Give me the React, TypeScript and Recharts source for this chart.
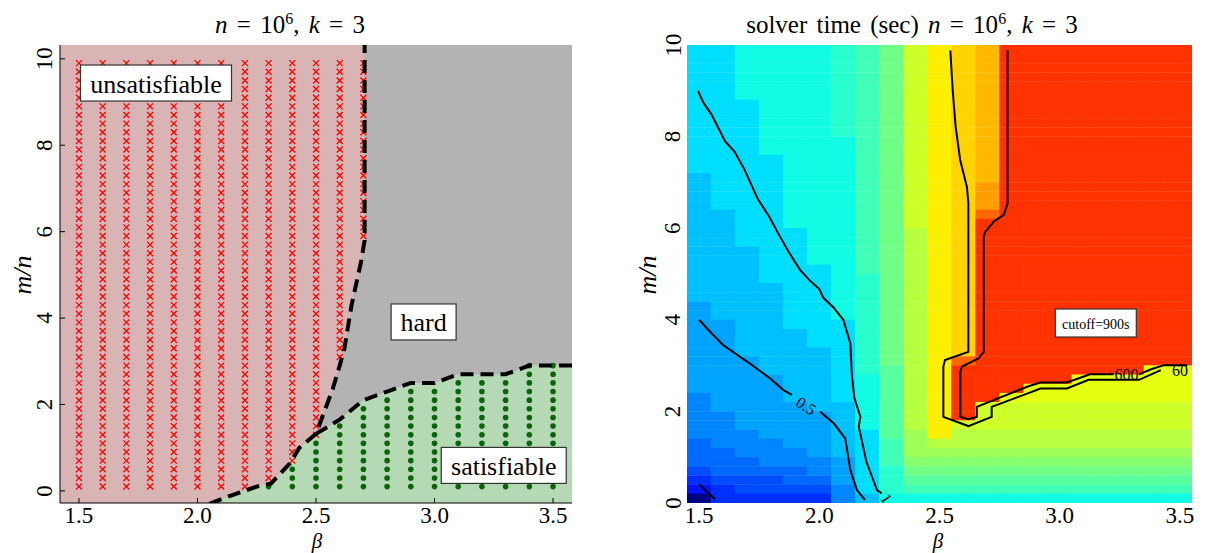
import React from "react";
import { ComposedChart, Area, Scatter, XAxis, YAxis, CartesianGrid } from "recharts";

const FONT = "'Liberation Serif', 'DejaVu Serif', serif";

// sampled grid: beta (columns) and m/n (rows, top to bottom)
const betas = [1.5, 1.6, 1.7, 1.8, 1.9, 2.0, 2.1, 2.2, 2.3, 2.4, 2.5, 2.6, 2.7, 2.8, 2.9, 3.0, 3.1, 3.2, 3.3, 3.4, 3.5];
const ratios = [
  9.9, 9.7, 9.5, 9.3, 9.1, 8.9, 8.7, 8.5, 8.3, 8.1, 7.9, 7.7, 7.5, 7.3, 7.1, 6.9, 6.7, 6.5, 6.3, 6.1,
  5.9, 5.7, 5.5, 5.3, 5.1, 4.9, 4.7, 4.5, 4.3, 4.1, 3.9, 3.7, 3.5, 3.3, 3.1, 2.9, 2.7, 2.5, 2.3, 2.1,
  1.9, 1.7, 1.5, 1.3, 1.1, 0.9, 0.7, 0.5, 0.3, 0.1,
];

// highest m/n solved (satisfiable) and lowest m/n proven unsatisfiable, per beta
const satTop = [null, null, null, null, null, null, null, null, 0.1, 0.5, 1.1, 1.5, 1.9, 2.1, 2.3, 2.3, 2.5, 2.5, 2.5, 2.9, 2.9];
const unsatBottom = [0.1, 0.1, 0.1, 0.1, 0.1, 0.1, 0.1, 0.1, 0.3, 0.7, 1.3, 3.1, 5.9, null, null, null, null, null, null, null, null];

// dashed phase boundaries
const unsatEdgeLow = [
  { x: 2.05, y: -0.3 }, { x: 2.15, y: -0.09 }, { x: 2.25, y: 0.1 }, { x: 2.31, y: 0.17 },
  { x: 2.39, y: 0.64 }, { x: 2.43, y: 1.0 },
];
const triplePoint = { x: 2.5, y: 1.32 };
const unsatEdgeHigh = [
  { x: 2.57, y: 2.35 }, { x: 2.6, y: 2.9 }, { x: 2.62, y: 3.3 }, { x: 2.65, y: 4.3 },
  { x: 2.69, y: 5.3 }, { x: 2.705, y: 5.8 }, { x: 2.705, y: 10.4 },
];
const satEdge = [
  { x: 2.6, y: 1.65 }, { x: 2.7, y: 2.1 }, { x: 2.8, y: 2.3 }, { x: 2.9, y: 2.5 }, { x: 3.0, y: 2.5 },
  { x: 3.1, y: 2.7 }, { x: 3.3, y: 2.7 }, { x: 3.4, y: 2.9 }, { x: 3.6, y: 2.9 },
];

const regionLabels = [
  { x: 1.825, y: 9.44, text: "unsatisfiable" },
  { x: 2.954, y: 3.91, text: "hard" },
  { x: 3.292, y: 0.59, text: "satisfiable" },
];

// solver time heatmap: jet level per cell (0-9a-z -> 0..1), column runs top to bottom
const heatRuns = [
  "c*14 b*14 a*10 9*5 8*3 7 6 5 0",
  "c*18 b*12 a*10 9*4 8*3 7 6*2",
  "d*6 c*16 b*12 a*8 9*3 8*2 7*2 6",
  "d*12 c*14 b*10 a*7 9*3 8 7*2 6",
  "d*20 c*11 b*8 a*5 9*2 8*2 7 6",
  "d*24 c*9 b*7 a*5 9*2 8 7 6",
  "e*10 d*20 c*9 b*6 a*3 9*2",
  "f*25 e*11 d*6 c*7 b",
  "h*35 g*8 f*3 e*3 d",
  "l*20 k*22 j*3 i h g f d",
  "n*43 k j i h g f d",
  "o*34 s u*6 l k*2 j i h g f d",
  "p*15 q*3 s u*20 l*3 k*2 j i h g f d",
  "u*38 m l*3 k*2 j i h g f d",
  "u*37 m*2 l*3 k*2 j i h g f d",
  "u*37 m*2 l*3 k*2 j i h g f d",
  "u*36 m*3 l*3 k*2 j i h g f d",
  "u*36 m*3 l*3 k*2 j i h g f d",
  "u*36 m*3 l*3 k*2 j i h g f d",
  "u*35 m*4 l*3 k*2 j i h g f d",
  "u*35 m*4 l*3 k*2 j i h g f d",
];

// contour lines (sec)
const contour01 = [{ x: 1.5, y: 0.41 }, { x: 1.567, y: 0.08 }];
const contour05Head = [
  { x: 1.5, y: 4.0 }, { x: 1.553, y: 3.7 }, { x: 1.6, y: 3.45 }, { x: 1.71, y: 3.05 },
  { x: 1.796, y: 2.72 }, { x: 1.85, y: 2.47 }, { x: 1.886, y: 2.36 },
];
const contour05Tail = [
  { x: 2.004, y: 1.99 }, { x: 2.06, y: 1.74 }, { x: 2.108, y: 1.41 }, { x: 2.129, y: 0.72 },
  { x: 2.157, y: 0.28 }, { x: 2.19, y: 0.07 },
];
const contour1 = [
  { x: 1.496, y: 9.0 }, { x: 1.517, y: 8.75 }, { x: 1.552, y: 8.48 }, { x: 1.608, y: 7.9 },
  { x: 1.648, y: 7.67 }, { x: 1.688, y: 7.29 }, { x: 1.745, y: 6.63 }, { x: 1.792, y: 6.25 },
  { x: 1.832, y: 5.86 }, { x: 1.873, y: 5.48 }, { x: 1.92, y: 5.09 }, { x: 1.96, y: 4.86 },
  { x: 2.0, y: 4.67 }, { x: 2.017, y: 4.48 }, { x: 2.057, y: 4.28 }, { x: 2.1, y: 4.0 },
  { x: 2.129, y: 3.49 }, { x: 2.136, y: 2.76 }, { x: 2.146, y: 2.29 }, { x: 2.171, y: 1.88 },
  { x: 2.164, y: 1.67 }, { x: 2.196, y: 0.9 }, { x: 2.24, y: 0.28 }, { x: 2.26, y: 0.21 },
];
const contour60 = [
  { x: 2.545, y: 9.88 }, { x: 2.555, y: 9.0 }, { x: 2.567, y: 8.22 }, { x: 2.586, y: 7.49 },
  { x: 2.614, y: 6.9 }, { x: 2.62, y: 6.55 }, { x: 2.62, y: 3.3 }, { x: 2.523, y: 3.12 },
  { x: 2.516, y: 2.98 }, { x: 2.516, y: 1.88 }, { x: 2.62, y: 1.68 }, { x: 2.717, y: 1.88 },
  { x: 2.717, y: 2.1 }, { x: 2.87, y: 2.4 }, { x: 2.92, y: 2.5 }, { x: 3.03, y: 2.5 },
  { x: 3.12, y: 2.69 }, { x: 3.33, y: 2.69 }, { x: 3.42, y: 2.9 },
];
const contour600Head = [
  { x: 2.783, y: 9.89 }, { x: 2.783, y: 6.54 }, { x: 2.767, y: 6.29 }, { x: 2.725, y: 6.14 },
  { x: 2.69, y: 5.92 }, { x: 2.684, y: 5.81 }, { x: 2.684, y: 3.3 }, { x: 2.663, y: 3.16 },
  { x: 2.594, y: 2.98 }, { x: 2.587, y: 2.87 }, { x: 2.587, y: 1.88 }, { x: 2.62, y: 1.83 },
  { x: 2.655, y: 1.88 }, { x: 2.655, y: 2.1 }, { x: 2.87, y: 2.55 }, { x: 2.92, y: 2.63 },
  { x: 3.03, y: 2.63 }, { x: 3.126, y: 2.81 }, { x: 3.224, y: 2.81 },
];
const contour600Tail = [{ x: 3.33, y: 2.81 }, { x: 3.38, y: 2.92 }, { x: 3.434, y: 3.01 }, { x: 3.53, y: 3.01 }];

const contourLabels = [
  { x: 1.945, y: 2.12, text: "0.5", angle: 33 },
  { x: 2.28, y: 0.1, text: "1", angle: 55 },
  { x: 3.278, y: 2.81, text: "600", angle: 0 },
  { x: 3.5, y: 2.9, text: "60", angle: 0 },
];
const cutoffLabel = [{ x: 3.15, y: 3.93, text: "cutoff=900s" }];

// ---- derived tables ----
const unsatPoints = betas.flatMap((beta, i) =>
  unsatBottom[i] == null ? [] : ratios.filter((r) => r >= (unsatBottom[i] as number) - 1e-9).map((r) => ({ x: beta, y: r }))
);
const satPoints = betas.flatMap((beta, i) =>
  satTop[i] == null ? [] : ratios.filter((r) => r <= (satTop[i] as number) + 1e-9).map((r) => ({ x: beta, y: r }))
);
const unsatEdge = [...unsatEdgeLow, triplePoint, ...unsatEdgeHigh];
const satLine = [triplePoint, ...satEdge];
const pinkBand = [{ x: 1.4, y: -0.3 }, ...unsatEdge].map((p) => ({ x: p.x, band: [p.y, 10.4] }));
const greenBand = [...unsatEdgeLow, triplePoint, ...satEdge].map((p) => ({ x: p.x, band: [-0.4, p.y] }));

const JET: Record<string, number[][]> = {
  r: [[0, 0], [0.35, 0], [0.66, 1], [0.89, 1], [1, 0.5]],
  g: [[0, 0], [0.125, 0], [0.375, 1], [0.64, 1], [0.91, 0], [1, 0]],
  b: [[0, 0.5], [0.11, 1], [0.34, 1], [0.65, 0], [1, 0]],
};
const channel = (stops: number[][], v: number) => {
  for (let i = 1; i < stops.length; i++) {
    const [x0, y0] = stops[i - 1];
    const [x1, y1] = stops[i];
    if (v <= x1) return y0 + ((v - x0) / (x1 - x0)) * (y1 - y0);
  }
  return stops[stops.length - 1][1];
};
const jet = (v: number) =>
  `rgb(${Math.round(255 * channel(JET.r, v))},${Math.round(255 * channel(JET.g, v))},${Math.round(255 * channel(JET.b, v))})`;

const expandRuns = (runs: string) =>
  runs.split(" ").flatMap((tok) => {
    const [ch, n] = tok.split("*");
    return Array(n ? Number(n) : 1).fill(ch);
  });

const heatCells = betas.flatMap((beta, i) =>
  expandRuns(heatRuns[i]).map((ch: string, j: number) => ({ x: beta, y: ratios[j], fill: jet(parseInt(ch, 36) / 35) }))
);

// ---- shapes ----
const CELL_W = 24.6;
const CELL_H = 9.5;
const boxWidths: Record<string, number> = { unsatisfiable: 151, hard: 65, satisfiable: 125, "cutoff=900s": 81 };

const Nothing = () => <g />;

const XMark = ({ cx, cy }: any) => (
  <path d={`M${cx - 3} ${cy - 3}L${cx + 3} ${cy + 3}M${cx - 3} ${cy + 3}L${cx + 3} ${cy - 3}`} stroke="#ff0000" strokeWidth={1.3} />
);
const GreenDot = ({ cx, cy }: any) => <circle cx={cx} cy={cy} r={2.8} fill="#0a640a" />;

const HeatCell = ({ cx, cy, payload }: any) => (
  <rect x={cx - CELL_W / 2} y={cy - CELL_H / 2} width={CELL_W} height={CELL_H} fill={payload.fill} />
);

const LabelBox = ({ cx, cy, payload }: any) => {
  const w = boxWidths[payload.text];
  const small = payload.text === "cutoff=900s";
  const h = small ? 28 : 36;
  return (
    <g>
      <rect x={cx - w / 2} y={cy - h / 2} width={w} height={h} fill="#fff" stroke="#333" strokeWidth={1.2} />
      <text x={cx} y={cy + 1} textAnchor="middle" dominantBaseline="central" fontSize={small ? 14 : 26} fontFamily={FONT} fill="#000">
        {payload.text}
      </text>
    </g>
  );
};

const ContourLabel = ({ cx, cy, payload }: any) => (
  <text
    x={cx}
    y={cy}
    transform={`rotate(${payload.angle} ${cx} ${cy})`}
    textAnchor="middle"
    dominantBaseline="central"
    fontSize={16}
    fontFamily={FONT}
    fill="#000"
  >
    {payload.text}
  </text>
);

const XTick = ({ x, y, payload, inward }: any) => (
  <g>
    {inward && <line x1={x} x2={x} y1={y} y2={y - 5} stroke="#000" />}
    <text x={x} y={y + 12} textAnchor="middle" dominantBaseline="central" fontSize={23} fontFamily={FONT} fill="#000">
      {Number(payload.value).toFixed(1)}
    </text>
  </g>
);
const YTick = ({ x, y, payload, inward, gap }: any) => (
  <g>
    {inward && <line x1={x} x2={x + 5} y1={y} y2={y} stroke="#000" />}
    <text
      x={x - gap}
      y={y}
      transform={`rotate(-90 ${x - gap} ${y})`}
      textAnchor="middle"
      dominantBaseline="central"
      fontSize={23}
      fontFamily={FONT}
      fill="#000"
    >
      {payload.value}
    </text>
  </g>
);

const Title = ({ left, prefix }: { left: number; prefix?: string }) => (
  <div style={{ position: "absolute", left, top: 24, transform: "translate(-50%,-50%)", fontSize: 25, whiteSpace: "nowrap", wordSpacing: 3 }}>
    {prefix}
    <i>n</i> = 10<sup style={{ fontSize: 16, verticalAlign: 9 }}>6</sup>, <i>k</i> = 3
  </div>
);

const Beta = ({ cx }: { cx: number }) => (
  <div style={{ position: "absolute", left: cx, top: 541, transform: "translate(-50%,-50%)", fontSize: 21, fontStyle: "italic", lineHeight: 1 }}>β</div>
);

const MN = ({ left }: { left: number }) => (
  <div style={{ position: "absolute", left, top: 275, transform: "translate(-50%,-50%) rotate(-90deg)", fontSize: 26, fontStyle: "italic", whiteSpace: "nowrap" }}>
    m/n
  </div>
);

const LEFT_X: [number, number] = [1.42, 3.58];
const LEFT_Y: [number, number] = [-0.28, 10.32];
const RIGHT_X: [number, number] = [1.45, 3.55];
const RIGHT_Y: [number, number] = [0, 10];

export default function App() {
  return (
    <div style={{ position: "absolute", left: 0, top: 0, width: 1210, height: 553, background: "#fff", fontFamily: FONT, color: "#000" }}>
      <Title left={290} />
      <Title left={912} prefix="solver time (sec) " />
      <Beta cx={317} />
      <Beta cx={938} />
      <MN left={23} />
      <MN left={648} />

      <div style={{ position: "absolute", left: 0, top: 0 }}>
        <ComposedChart width={600} height={553} margin={{ top: 45, right: 28, bottom: 0, left: 0 }}>
          <CartesianGrid fill="#b3b3b3" horizontal={false} vertical={false} />
          <XAxis
            dataKey="x"
            type="number"
            domain={LEFT_X}
            allowDataOverflow
            ticks={[1.5, 2, 2.5, 3, 3.5]}
            height={50}
            tickSize={0}
            tickMargin={0}
            tickLine={false}
            axisLine={{ stroke: "#000" }}
            tick={(p: any) => <XTick {...p} inward />}
          />
          <XAxis xAxisId="top" orientation="top" type="number" domain={LEFT_X} allowDataOverflow height={0} tick={false} tickLine={false} axisLine={{ stroke: "#000" }} />
          <YAxis
            dataKey="y"
            type="number"
            domain={LEFT_Y}
            allowDataOverflow
            ticks={[0, 2, 4, 6, 8, 10]}
            width={60}
            tickSize={0}
            tickMargin={0}
            tickLine={false}
            axisLine={{ stroke: "#000" }}
            tick={(p: any) => <YTick {...p} inward gap={15} />}
          />
          <YAxis yAxisId="right" orientation="right" type="number" domain={LEFT_Y} allowDataOverflow width={0} tick={false} tickLine={false} axisLine={{ stroke: "#000" }} />
          <Area data={pinkBand} dataKey="band" type="linear" fill="#d8b4b4" fillOpacity={1} stroke="none" isAnimationActive={false} />
          <Area data={greenBand} dataKey="band" type="linear" fill="#b4d9b4" fillOpacity={1} stroke="none" isAnimationActive={false} />
          <Scatter data={unsatPoints} shape={XMark} isAnimationActive={false} />
          <Scatter data={satPoints} shape={GreenDot} isAnimationActive={false} />
          <Scatter data={unsatEdge} shape={Nothing} line={{ stroke: "#000", strokeWidth: 4, strokeDasharray: "13 7" }} isAnimationActive={false} />
          <Scatter data={satLine} shape={Nothing} line={{ stroke: "#000", strokeWidth: 4, strokeDasharray: "13 7" }} isAnimationActive={false} />
          <Scatter data={regionLabels} shape={LabelBox} isAnimationActive={false} />
        </ComposedChart>
      </div>

      <div style={{ position: "absolute", left: 600, top: 0 }}>
        <ComposedChart width={610} height={553} margin={{ top: 45, right: 18, bottom: 0, left: 0 }}>
          <XAxis
            dataKey="x"
            type="number"
            domain={RIGHT_X}
            allowDataOverflow
            ticks={[1.5, 2, 2.5, 3, 3.5]}
            height={50}
            tickSize={0}
            tickMargin={0}
            tickLine={false}
            axisLine={false}
            tick={(p: any) => <XTick {...p} />}
          />
          <YAxis
            dataKey="y"
            type="number"
            domain={RIGHT_Y}
            allowDataOverflow
            ticks={[0, 2, 4, 6, 8, 10]}
            width={87}
            tickSize={0}
            tickMargin={0}
            tickLine={false}
            axisLine={false}
            tick={(p: any) => <YTick {...p} gap={14} />}
          />
          <Scatter data={heatCells} shape={HeatCell} isAnimationActive={false} />
          {[contour01, contour05Head, contour05Tail, contour1, contour60, contour600Head, contour600Tail].map((c, i) => (
            <Scatter key={i} data={c} shape={Nothing} line={{ stroke: "#000", strokeWidth: 2 }} isAnimationActive={false} />
          ))}
          <Scatter data={contourLabels} shape={ContourLabel} isAnimationActive={false} />
          <Scatter data={cutoffLabel} shape={LabelBox} isAnimationActive={false} />
        </ComposedChart>
      </div>
    </div>
  );
}
